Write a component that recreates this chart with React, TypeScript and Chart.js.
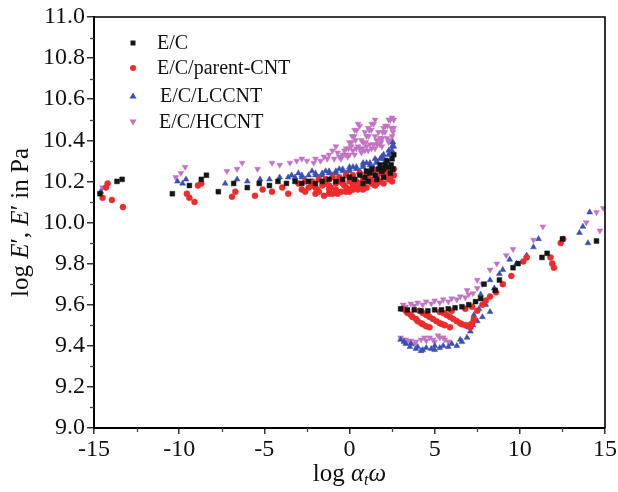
import React, { useEffect, useRef } from 'react';
import { Chart, registerables } from 'chart.js';
Chart.register(...registerables);

type P = [number, number];

const seriesNames = ['E/C', 'E/C/parent-CNT', 'E/C/LCCNT', 'E/C/HCCNT'];
const seriesColors = ['#151515', '#ee2b2b', '#3a4fb5', '#c373c3'];

const xTicks = [-15, -10, -5, 0, 5, 10, 15];
const xMinorTicks = [-12.5, -7.5, -2.5, 2.5, 7.5, 12.5];
const yTicks = [9.0, 9.2, 9.4, 9.6, 9.8, 10.0, 10.2, 10.4, 10.6, 10.8, 11.0];
const yMinorTicks = [9.1, 9.3, 9.5, 9.7, 9.9, 10.1, 10.3, 10.5, 10.7, 10.9];

const ecPoints: P[] = [
  [-14.65, 10.14], [-13.65, 10.2], [-13.35, 10.21], [-10.4, 10.14], [-9.4, 10.18], [-8.7, 10.21], [-8.4, 10.23],
  [-7.7, 10.15], [-6.8, 10.19], [-6.0, 10.17], [-5.3, 10.19], [-4.7, 10.18], [-4.2, 10.2], [-3.7, 10.19],
  [-3.2, 10.2], [-2.8, 10.19], [-2.4, 10.2], [-2.0, 10.19], [-1.6, 10.2], [-1.2, 10.21], [-0.8, 10.2],
  [-0.4, 10.21], [0, 10.22], [0.3, 10.21], [0.6, 10.23], [0.9, 10.22], [1.2, 10.24], [1.5, 10.23],
  [1.7, 10.26], [1.9, 10.25], [2.1, 10.28], [2.3, 10.27], [2.5, 10.31], [2.6, 10.33],
  [0.8, 10.19], [1.1, 10.2], [1.6, 10.21], [2.0, 10.22], [2.4, 10.24],
  [1.3, 10.26], [1.8, 10.28], [2.2, 10.3], [2.45, 10.28], [2.55, 10.26], [1.0, 10.25], [2.0, 10.26],
  [3.0, 9.58], [3.4, 9.575], [3.8, 9.575], [4.2, 9.57], [4.6, 9.57], [5.0, 9.575], [5.4, 9.575],
  [5.8, 9.58], [6.2, 9.585], [6.6, 9.59], [7.0, 9.6], [7.4, 9.615], [7.7, 9.63], [7.9, 9.7],
  [8.55, 9.67], [8.8, 9.72], [9.6, 9.78], [9.9, 9.8], [11.3, 9.83], [11.6, 9.85], [12.5, 9.92], [14.5, 9.91],
];

const parentPoints: P[] = [
  [-14.5, 10.12], [-14.3, 10.17], [-14.2, 10.19], [-13.95, 10.11], [-13.3, 10.075], [-9.55, 10.14], [-9.4, 10.12],
  [-9.1, 10.1], [-8.9, 10.18], [-8.7, 10.19], [-6.9, 10.125], [-6.7, 10.15], [-5.55, 10.13], [-5.1, 10.16],
  [-4.55, 10.15], [-3.95, 10.17], [-3.6, 10.14],
  [-3.0, 10.19], [-2.6, 10.2], [-2.2, 10.2], [-1.8, 10.21], [-1.4, 10.21], [-1.0, 10.22], [-0.6, 10.22],
  [-0.2, 10.23], [0.2, 10.23], [0.6, 10.24], [1.0, 10.24], [1.4, 10.25], [1.8, 10.26], [2.2, 10.26], [2.6, 10.26],
  [-2.8, 10.16], [-2.4, 10.17], [-2.0, 10.17], [-1.6, 10.18], [-1.2, 10.18], [-0.8, 10.19], [-0.4, 10.19],
  [0, 10.2], [0.4, 10.2], [0.8, 10.21], [1.2, 10.21], [1.6, 10.22], [2.0, 10.23], [2.4, 10.23],
  [-2.6, 10.15], [-2.0, 10.14], [-1.5, 10.13], [-1.0, 10.14], [-0.5, 10.15], [0, 10.15], [0.5, 10.16],
  [1.0, 10.17], [1.5, 10.18], [2.0, 10.19], [2.5, 10.2],
  [-1.8, 10.15], [-1.2, 10.16], [-0.2, 10.17], [0.2, 10.18], [0.7, 10.18], [1.3, 10.19], [1.8, 10.2],
  [2.3, 10.21], [-0.8, 10.16], [0.0, 10.16], [0.4, 10.17], [2.6, 10.23], [2.2, 10.24],
  [-2.2, 10.18], [-1.4, 10.19], [-0.6, 10.2], [0.2, 10.21], [1.0, 10.22], [1.8, 10.24], [2.4, 10.25],
  [-1.9, 10.16], [-1.1, 10.17], [-0.3, 10.18], [0.6, 10.19], [1.4, 10.2], [2.2, 10.22],
  [-1.2, 10.14], [-0.2, 10.15], [0.8, 10.16], [1.6, 10.19], [2.4, 10.21], [0.2, 10.16], [-0.7, 10.14],
  [3.1, 9.58], [3.4, 9.56], [3.7, 9.54], [4.0, 9.52], [4.3, 9.505], [4.7, 9.49],
  [3.3, 9.57], [3.6, 9.55], [3.9, 9.53], [4.2, 9.51], [4.5, 9.495],
  [4.1, 9.57], [4.5, 9.55], [4.9, 9.53], [5.3, 9.51], [5.6, 9.5], [5.9, 9.49],
  [4.3, 9.56], [4.7, 9.54], [5.1, 9.52], [5.45, 9.505],
  [5.3, 9.565], [5.7, 9.55], [6.1, 9.53], [6.5, 9.51], [6.8, 9.5], [7.1, 9.49],
  [5.5, 9.56], [5.9, 9.54], [6.3, 9.52], [6.6, 9.505], [7.0, 9.5], [7.2, 9.51],
  [6.0, 9.57], [6.8, 9.58], [7.2, 9.59],
  [7.3, 9.53], [7.5, 9.57], [7.8, 9.6], [8.0, 9.62], [8.25, 9.64], [8.6, 9.66], [9.0, 9.7], [9.5, 9.74],
  [10.2, 9.81], [10.4, 9.83], [11.8, 9.83], [11.9, 9.8], [12.0, 9.78], [12.4, 9.9], [12.55, 9.92],
];

const lccntPoints: P[] = [
  [-14.6, 10.15], [-10.1, 10.2], [-9.8, 10.19], [-9.6, 10.21], [-7.3, 10.19], [-6.6, 10.21], [-6.0, 10.2],
  [-5.25, 10.21], [-4.7, 10.21], [-4.1, 10.22],
  [-3.6, 10.22], [-3.2, 10.22], [-2.8, 10.22], [-2.4, 10.23], [-2.0, 10.23], [-1.6, 10.23], [-1.2, 10.24],
  [-0.8, 10.24], [-0.4, 10.25], [0, 10.25], [0.4, 10.26], [0.8, 10.27], [1.2, 10.28], [1.6, 10.29],
  [2.0, 10.31], [2.3, 10.33], [2.5, 10.35], [2.6, 10.37],
  [-3.0, 10.24], [-2.2, 10.25], [-1.4, 10.25], [-0.6, 10.26], [0.2, 10.27], [1.0, 10.29], [1.8, 10.31],
  [2.4, 10.34], [2.1, 10.3],
  [-2.6, 10.21], [-1.8, 10.22], [-1.0, 10.23], [-0.2, 10.24], [0.6, 10.25], [1.4, 10.27], [2.2, 10.3],
  [0.0, 10.27], [0.8, 10.29], [1.5, 10.31], [2.0, 10.33], [2.5, 10.37], [2.55, 10.39],
  [-2.8, 10.23], [-2.0, 10.24], [-1.2, 10.25], [-0.4, 10.26], [0.4, 10.27], [1.2, 10.29], [1.9, 10.32],
  [2.3, 10.35], [-3.4, 10.23], [-1.6, 10.24], [-0.8, 10.25], [0.0, 10.26], [0.8, 10.28], [1.6, 10.3],
  [3.0, 9.43], [3.3, 9.41], [3.55, 9.395], [3.9, 9.385], [4.3, 9.38], [4.8, 9.385], [5.3, 9.39], [5.8, 9.395],
  [6.3, 9.4], [6.6, 9.42], [6.9, 9.44], [7.1, 9.47], [7.25, 9.5], [7.5, 9.52], [7.8, 9.54], [8.25, 9.565],
  [3.2, 9.42], [3.6, 9.41], [4.0, 9.395], [4.5, 9.39], [5.0, 9.4], [5.5, 9.4], [6.0, 9.41], [6.5, 9.43],
  [4.2, 9.375], [5.0, 9.38],
  [7.0, 9.49], [7.3, 9.55], [7.6, 9.58], [8.0, 9.6], [8.5, 9.68], [9.0, 9.77],
  [7.7, 9.65], [8.25, 9.72], [8.8, 9.75], [9.4, 9.82], [9.8, 9.8], [10.4, 9.84], [10.8, 9.88], [11.1, 9.92],
  [13.5, 9.95], [14.0, 9.9], [14.1, 10.05], [13.7, 9.98],
];

const hccntPoints: P[] = [
  [-14.5, 10.17], [-10.2, 10.22], [-9.65, 10.27], [-9.9, 10.24], [-7.2, 10.25], [-6.3, 10.29], [-6.6, 10.26],
  [-5.4, 10.26], [-4.55, 10.29], [-4.1, 10.28], [-3.5, 10.29], [-3.1, 10.3], [-2.5, 10.3], [-2.1, 10.29],
  [-1.7, 10.3], [-1.3, 10.31], [-0.9, 10.31], [-0.5, 10.31], [-0.1, 10.32], [0.3, 10.33], [0.7, 10.34],
  [1.1, 10.35], [1.5, 10.36], [1.9, 10.37], [2.3, 10.39],
  [-0.4, 10.33], [-0.2, 10.36], [0.0, 10.39], [0.15, 10.42], [0.3, 10.45], [0.5, 10.48],
  [-0.25, 10.33], [-0.05, 10.36], [0.12, 10.39], [0.28, 10.42], [0.42, 10.45], [0.6, 10.47],
  [0.6, 10.36], [0.8, 10.39], [1.0, 10.42], [1.15, 10.45], [1.3, 10.48], [1.5, 10.5],
  [0.75, 10.36], [0.95, 10.39], [1.12, 10.42], [1.28, 10.45], [1.42, 10.48],
  [1.6, 10.38], [1.8, 10.41], [1.95, 10.44], [2.1, 10.47], [2.3, 10.5], [2.5, 10.51],
  [1.75, 10.38], [1.92, 10.41], [2.08, 10.44], [2.22, 10.47], [2.4, 10.5],
  [-1.2, 10.33], [-1.0, 10.35], [-0.8, 10.37],
  [0.2, 10.35], [0.5, 10.37], [1.2, 10.38], [1.6, 10.4], [2.2, 10.41], [-0.6, 10.32], [0.0, 10.33],
  [0.9, 10.35], [1.3, 10.36], [2.5, 10.42], [2.6, 10.46], [2.6, 10.5],
  [-2.8, 10.31], [-2.0, 10.31], [-1.5, 10.32], [-0.7, 10.34], [0.1, 10.37], [0.35, 10.4], [0.7, 10.4],
  [0.9, 10.44], [1.1, 10.46], [1.7, 10.44], [1.5, 10.42], [2.0, 10.46], [2.45, 10.46], [2.55, 10.44],
  [1.4, 10.38], [1.85, 10.39], [2.4, 10.4], [0.4, 10.36], [-0.3, 10.35], [1.0, 10.37],
  [3.15, 9.6], [3.6, 9.605], [4.0, 9.61], [4.5, 9.615], [5.0, 9.62], [5.5, 9.625], [6.0, 9.63], [6.5, 9.64],
  [7.0, 9.65], [7.25, 9.655], [7.5, 9.68], [7.8, 9.7], [6.9, 9.67],
  [3.3, 9.59], [3.8, 9.595], [4.3, 9.6], [4.8, 9.605], [5.3, 9.61], [5.8, 9.615], [6.3, 9.625], [6.8, 9.635],
  [3.1, 9.43], [3.4, 9.42], [3.8, 9.41], [4.2, 9.43], [4.5, 9.425], [4.7, 9.44], [5.0, 9.42], [5.3, 9.44], [5.6, 9.43],
  [3.0, 9.44], [3.3, 9.43], [3.6, 9.425], [3.9, 9.42], [4.4, 9.44], [4.9, 9.43], [5.2, 9.45], [5.5, 9.44], [5.8, 9.42],
  [7.5, 9.72], [8.25, 9.77], [8.65, 9.8], [9.2, 9.84], [9.6, 9.87], [10.8, 9.915], [11.35, 9.98],
  [13.9, 10.0], [14.5, 10.05], [14.7, 9.96], [14.9, 10.07],
];

const allSeries = [ecPoints, parentPoints, lccntPoints, hccntPoints];
const pointStyles = ['rect', 'circle', 'triangle', 'triangle'];
const pointRotations = [0, 0, 0, 180];
const pointRadii = [3.4, 3, 3.4, 3.4];

const FONT = 'Liberation Serif';

function drawMarker(ctx: CanvasRenderingContext2D, i: number, x: number, y: number) {
  ctx.fillStyle = seriesColors[i];
  ctx.beginPath();
  if (i === 0) {
    ctx.rect(x - 2.5, y - 2.5, 5, 5);
  } else if (i === 1) {
    ctx.arc(x, y, 3, 0, Math.PI * 2);
  } else if (i === 2) {
    ctx.moveTo(x, y - 3.5);
    ctx.lineTo(x + 3.5, y + 2.5);
    ctx.lineTo(x - 3.5, y + 2.5);
    ctx.closePath();
  } else {
    ctx.moveTo(x, y + 3.5);
    ctx.lineTo(x + 3.5, y - 2.5);
    ctx.lineTo(x - 3.5, y - 2.5);
    ctx.closePath();
  }
  ctx.fill();
}

type Seg = { t: string; italic?: boolean; size?: number; dy?: number };

function drawSegs(ctx: CanvasRenderingContext2D, segs: Seg[], cx: number, baseline: number, base: number) {
  const fontOf = (s: Seg) => `${s.italic ? 'italic ' : ''}${s.size ?? base}px "${FONT}"`;
  let total = 0;
  for (const s of segs) {
    ctx.font = fontOf(s);
    total += ctx.measureText(s.t).width;
  }
  let x = cx - total / 2;
  ctx.textAlign = 'left';
  ctx.textBaseline = 'alphabetic';
  for (const s of segs) {
    ctx.font = fontOf(s);
    ctx.fillText(s.t, x, baseline + (s.dy ?? 0));
    x += ctx.measureText(s.t).width;
  }
}

const decorPlugin = {
  id: 'decor',
  afterDraw(chart: any) {
    const { ctx, chartArea: a, scales } = chart;
    const xs = scales.x;
    const ys = scales.y;
    ctx.save();
    ctx.strokeStyle = '#000';
    ctx.lineWidth = 1.6;
    ctx.beginPath();
    ctx.moveTo(a.left, a.top);
    ctx.lineTo(a.right, a.top);
    ctx.lineTo(a.right, a.bottom);
    ctx.stroke();

    ctx.lineWidth = 1.3;
    ctx.strokeStyle = '#444';
    for (const v of yMinorTicks) {
      const py = Math.round(ys.getPixelForValue(v)) + 0.5;
      ctx.beginPath();
      ctx.moveTo(a.left - 4, py);
      ctx.lineTo(a.left, py);
      ctx.stroke();
    }
    for (const v of xMinorTicks) {
      const px = Math.round(xs.getPixelForValue(v)) + 0.5;
      ctx.beginPath();
      ctx.moveTo(px, a.bottom);
      ctx.lineTo(px, a.bottom + 4);
      ctx.stroke();
    }

    ctx.fillStyle = '#111';
    drawSegs(
      ctx,
      [
        { t: 'log ' },
        { t: 'α', italic: true },
        { t: 't', italic: true, size: 16, dy: 4 },
        { t: 'ω', italic: true },
      ],
      xs.getPixelForValue(0),
      481,
      25
    );
    ctx.save();
    ctx.translate(28, (a.top + a.bottom) / 2);
    ctx.rotate(-Math.PI / 2);
    ctx.fillStyle = '#111';
    drawSegs(
      ctx,
      [
        { t: 'log ' },
        { t: 'E', italic: true },
        { t: '′, ' },
        { t: 'E', italic: true },
        { t: '′ in Pa' },
      ],
      0,
      0,
      25
    );
    ctx.restore();

    const rows = [43, 68, 96, 122];
    const textX = [157, 157, 160, 159];
    for (let i = 0; i < seriesNames.length; i++) {
      drawMarker(ctx, i, 133, rows[i]);
      ctx.fillStyle = '#111';
      ctx.font = `20px "${FONT}"`;
      ctx.textAlign = 'left';
      ctx.textBaseline = 'middle';
      ctx.fillText(seriesNames[i], textX[i], rows[i] + 1);
    }
    ctx.restore();
  },
};

export default function App() {
  const ref = useRef<HTMLCanvasElement | null>(null);
  useEffect(() => {
    if (!ref.current) return;
    const chart = new Chart(ref.current, {
      type: 'scatter',
      data: {
        datasets: allSeries.map((pts, i) => ({
          label: seriesNames[i],
          data: pts.map(([x, y]) => ({ x, y })),
          pointStyle: pointStyles[i] as any,
          rotation: pointRotations[i],
          pointRadius: pointRadii[i],
          pointHoverRadius: pointRadii[i],
          backgroundColor: seriesColors[i],
          borderColor: seriesColors[i],
          borderWidth: 0.5,
        })),
      },
      options: {
        animation: false,
        responsive: false,
        devicePixelRatio: 1,
        layout: { padding: { left: 8, top: 17, right: 13, bottom: 0 } },
        plugins: { legend: { display: false }, tooltip: { enabled: false } },
        scales: {
          x: {
            type: 'linear',
            min: -15,
            max: 15,
            afterBuildTicks: (s: any) => {
              s.ticks = xTicks.map((v) => ({ value: v }));
            },
            afterFit: (s: any) => {
              s.height = 64;
            },
            border: { display: true, color: '#000', width: 2 },
            grid: { drawOnChartArea: false, drawTicks: true, tickLength: 6, color: '#333', lineWidth: 1.5 },
            ticks: {
              color: '#111',
              font: { family: FONT, size: 24 },
              padding: 1,
              maxRotation: 0,
              autoSkip: false,
              callback: (v: any) => String(v),
            },
          },
          y: {
            type: 'linear',
            min: 9,
            max: 11,
            afterBuildTicks: (s: any) => {
              s.ticks = yTicks.map((v) => ({ value: v }));
            },
            afterFit: (s: any) => {
              s.width = 86;
            },
            border: { display: true, color: '#000', width: 2 },
            grid: { drawOnChartArea: false, drawTicks: true, tickLength: 7, color: '#333', lineWidth: 1.5 },
            ticks: {
              color: '#111',
              font: { family: FONT, size: 24 },
              padding: 2,
              autoSkip: false,
              callback: (v: any) => Number(v).toFixed(1),
            },
          },
        },
      },
      plugins: [decorPlugin],
    });
    return () => chart.destroy();
  }, []);
  return (
    <div style={{ position: 'fixed', left: 0, top: 0, width: 618, height: 492, background: '#fff' }}>
      <canvas ref={ref} width={618} height={492} />
    </div>
  );
}
